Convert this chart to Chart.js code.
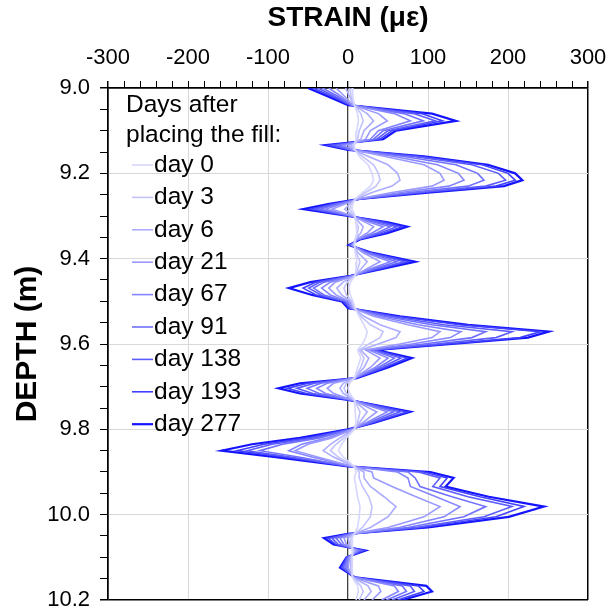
<!DOCTYPE html>
<html>
<head>
<meta charset="utf-8">
<script src="https://cdn.jsdelivr.net/npm/chart.js@4.4.1/dist/chart.umd.min.js"></script>
<style>
  html, body { margin: 0; padding: 0; background: #fff; }
</style>
</head>
<body>
<canvas id="chart" width="611" height="613"></canvas>
<script>
// depth of each reading (m), shared by all profiles
var depths = [9.00, 9.02, 9.04, 9.06, 9.077, 9.10, 9.12, 9.134, 9.145, 9.16,
  9.18, 9.20, 9.216, 9.23, 9.245, 9.26, 9.272, 9.284, 9.30, 9.315,
  9.325, 9.34, 9.355, 9.368, 9.385, 9.407, 9.425, 9.44, 9.455, 9.469,
  9.485, 9.50, 9.516, 9.535, 9.555, 9.571, 9.585, 9.60, 9.614, 9.633,
  9.655, 9.68, 9.692, 9.704, 9.716, 9.731, 9.759, 9.785, 9.80, 9.82,
  9.835, 9.85, 9.865, 9.887, 9.90, 9.914, 9.934, 9.958, 9.981, 10.005,
  10.03, 10.045, 10.055, 10.07, 10.084, 10.10, 10.124, 10.147, 10.167, 10.18,
  10.20];

var dayLabels = ['day 0', 'day 3', 'day 6', 'day 21', 'day 67', 'day 91', 'day 138', 'day 193', 'day 277'];

// strain readings (microstrain) per day
var day0 = [5, 6, 8, 12, 13, 11, 10, 8, 9, 14, 25, 30, 32, 28, 18, 9, 6, 5, 9, 10,
  11, 11, 9, 8, 9, 11, 10, 9, 3, 1, 3, 6, 9, 14, 20, 24, 22, 18, 12, 16,
  12, 8, 2, 0, 2, 8, 9, 10, 8, -2, -8, -12, -6, 8, 10, 8, 10, 12, 15, 14,
  12, 8, 5, 5, 6, 5, 5, 6, 12, 13, 10];
var day3 = [2, 4, 8, 16, 19, 14, 12, 6, 8, 18, 32, 38, 40, 35, 22, 9, 4, 2, 8, 10,
  13, 12, 9, 8, 10, 15, 12, 8, -1, -5, -2, 5, 8, 16, 28, 44, 40, 26, 14, 20,
  16, 8, -2, -5, -2, 8, 15, 12, 8, -5, -15, -22, -12, 8, 14, 14, 18, 26, 30, 28,
  18, 8, 3, 4, 7, 5, 4, 6, 16, 19, 14];
var day6 = [-3, 2, 7, 24, 32, 20, 16, 4, 7, 25, 50, 62, 65, 55, 30, 10, 2, -4, 7, 14,
  19, 16, 9, 7, 12, 24, 16, 8, -6, -14, -8, 4, 7, 20, 40, 65, 60, 38, 16, 26,
  20, 8, -6, -10, -6, 7, 24, 14, 7, -10, -22, -31, -18, 7, 20, 20, 28, 45, 60, 50,
  28, 7, 0, 2, 8, 4, 3, 6, 25, 29, 20];
var day21 = [-15, -4, 6, 38, 49, 28, 22, 0, 6, 45, 95, 115, 120, 105, 55, 12, -4, -20, 6, 22,
  32, 24, 10, 6, 18, 40, 22, 8, -16, -24, -15, 2, 6, 32, 75, 115, 105, 65, 22, 40,
  28, 8, -18, -26, -18, 6, 36, 18, 6, -20, -50, -66, -38, 6, 30, 32, 55, 85, 115, 95,
  50, 6, -5, -2, 10, 2, 0, 6, 38, 41, 30];
var day67 = [-24, -8, 5, 58, 78, 38, 28, -6, 5, 56, 112, 138, 145, 126, 66, 13, -8, -28, 5, 28,
  44, 30, 11, 5, 20, 53, 26, 7, -22, -33, -22, 0, 5, 38, 88, 141, 128, 80, 26, 50,
  34, 8, -26, -39, -28, 5, 49, 22, 5, -25, -58, -74, -45, 5, 62, 75, 78, 110, 140, 120,
  64, 5, -10, -5, 12, 1, -2, 7, 58, 63, 42];
var day91 = [-32, -12, 4, 70, 94, 44, 32, -12, 4, 68, 135, 162, 170, 150, 78, 14, -12, -35, 4, 34,
  53, 36, 12, 4, 22, 61, 30, 6, -30, -43, -30, -2, 4, 45, 105, 172, 155, 95, 30, 58,
  38, 8, -34, -51, -36, 4, 57, 25, 4, -35, -82, -110, -62, 4, 75, 84, 90, 130, 172, 145,
  75, 4, -15, -8, 14, 0, -4, 8, 68, 73, 48];
var day138 = [-38, -16, 3, 82, 109, 50, 36, -18, 3, 80, 155, 188, 197, 172, 88, 14, -16, -41, 3, 40,
  61, 40, 13, 3, 24, 70, 34, 5, -35, -49, -34, -4, 3, 52, 120, 205, 185, 110, 32, 66,
  42, 9, -42, -64, -44, 3, 65, 28, 3, -42, -95, -126, -72, 3, 88, 115, 106, 150, 205, 170,
  85, 3, -20, -12, 17, -1, -6, 8, 78, 83, 55];
var day193 = [-44, -20, 2, 92, 118, 55, 40, -24, 2, 90, 168, 200, 209, 185, 95, 15, -20, -47, 2, 45,
  68, 45, 14, 2, 26, 76, 38, 4, -40, -56, -40, -6, 2, 60, 140, 241, 215, 125, 34, 74,
  46, 10, -50, -76, -52, 2, 74, 30, 2, -50, -105, -139, -80, 2, 95, 124, 115, 165, 220, 185,
  92, 2, -25, -15, 20, -2, -8, 9, 88, 95, 62];
var day277 = [-50, -25, 0, 105, 135, 60, 44, -28, 0, 95, 175, 209, 218, 195, 100, 15, -25, -56, 0, 50,
  74, 49, 15, 1, 28, 84, 40, 3, -47, -74, -45, -8, 0, 65, 150, 251, 225, 130, 36, 80,
  50, 11, -60, -87, -60, 0, 78, 32, 0, -60, -120, -158, -90, 0, 103, 132, 122, 176, 245, 201,
  100, 0, -30, -18, 22, -2, -10, 9, 98, 105, 68];

var strainTicks = [-300, -200, -100, 0, 100, 200, 300];
var depthTicks = [9.0, 9.2, 9.4, 9.6, 9.8, 10.0, 10.2];

var profiles = [day0, day3, day6, day21, day67, day91, day138, day193, day277];
var lineColors = ['#d6d6ff', '#c2c2ff', '#adadff', '#9999ff', '#8585ff', '#7070ff', '#5c5cff', '#4040ff', '#1414ff'];

var FONT = '"Liberation Sans", Arial, sans-serif';

// build one scatter-with-line dataset per day
var datasets = [];
for (var i = 0; i < profiles.length; i++) {
    var pts = [];
    for (var k = 0; k < depths.length; k++) pts.push({ x: profiles[i][k], y: depths[k] });
    datasets.push({
        label: dayLabels[i],
        data: pts,
        showLine: true,
        borderColor: lineColors[i],
        backgroundColor: lineColors[i],
        borderWidth: i === profiles.length - 1 ? 2.2 : 1.6,
        pointRadius: 0,
        tension: 0
    });
}

function isMajor(v, list) {
    for (var j = 0; j < list.length; j++) if (Math.abs(v - list[j]) < 1e-6) return true;
    return false;
}

// legend drawn inside the plot, top-left, with a two line heading
var insideLegend = {
    id: 'insideLegend',
    afterDraw: function (chart) {
        var ctx = chart.ctx;
        var area = chart.chartArea;
        var x0 = area.left + 18;
        ctx.save();
        ctx.font = '24.5px ' + FONT;
        ctx.fillStyle = '#000';
        ctx.textBaseline = 'middle';
        ctx.textAlign = 'left';
        ctx.fillText('Days after', x0, area.top + 17);
        ctx.fillText('placing the fill:', x0, area.top + 47);
        chart.data.datasets.forEach(function (ds, n) {
            var y = area.top + 77 + n * 32.4;
            ctx.strokeStyle = ds.borderColor;
            ctx.lineWidth = ds.borderWidth;
            ctx.beginPath();
            ctx.moveTo(area.left + 24, y);
            ctx.lineTo(area.left + 45, y);
            ctx.stroke();
            ctx.fillText(ds.label, area.left + 46, y);
        });
        ctx.restore();
    }
};

new Chart(document.getElementById('chart').getContext('2d'), {
    type: 'scatter',
    data: { datasets: datasets },
    plugins: [insideLegend],
    options: {
        responsive: false,
        devicePixelRatio: 1,
        animation: false,
        layout: { padding: { left: 0, right: 23, top: 0, bottom: 13 } },
        plugins: {
            legend: { display: false },
            tooltip: { enabled: false }
        },
        scales: {
            x: {
                type: 'linear',
                position: 'top',
                min: -300,
                max: 300,
                afterFit: function (scale) {
                    scale.height = 88;
                    scale.paddingLeft = 0;
                    scale.paddingRight = 0;
                },
                ticks: {
                    stepSize: 20,
                    autoSkip: false,
                    maxRotation: 0,
                    padding: 10,
                    color: '#000',
                    font: { family: FONT, size: 22 },
                    callback: function (v) { return isMajor(v, strainTicks) ? String(Math.round(v)) : ''; }
                },
                grid: {
                    color: function (c) {
                        var v = c.tick ? c.tick.value : 0;
                        if (Math.abs(v) < 1e-6) return '#404040';
                        if (Math.abs(Math.abs(v) - 300) < 1e-6) return '#000';
                        return isMajor(v, strainTicks) ? '#d9d9d9' : 'rgba(0,0,0,0)';
                    },
                    lineWidth: function (c) {
                        var v = c.tick ? c.tick.value : 0;
                        if (Math.abs(Math.abs(v) - 300) < 1e-6) return 1.5;
                        return Math.abs(v) < 1e-6 ? 1.3 : 1;
                    },
                    tickColor: '#000',
                    tickLength: 7
                },
                border: { display: true, color: '#000', width: 1.5 },
                title: {
                    display: true,
                    text: 'STRAIN (\u03bc\u03b5)',
                    color: '#000',
                    font: { family: FONT, size: 28, weight: 'bold' },
                    padding: { top: 1, bottom: 2 }
                }
            },
            y: {
                type: 'linear',
                reverse: true,
                min: 9.0,
                max: 10.2,
                afterFit: function (scale) {
                    scale.width = 108;
                    scale.paddingTop = 0;
                    scale.paddingBottom = 0;
                },
                ticks: {
                    stepSize: 0.05,
                    autoSkip: false,
                    padding: 10,
                    color: '#000',
                    font: { family: FONT, size: 22 },
                    callback: function (v) { return isMajor(v, depthTicks) ? v.toFixed(1) : ''; }
                },
                grid: {
                    color: function (c) {
                        var v = c.tick ? c.tick.value : 0;
                        if (Math.abs(v - 9.0) < 1e-6 || Math.abs(v - 10.2) < 1e-6) return '#000';
                        return isMajor(v, depthTicks) ? '#d9d9d9' : 'rgba(0,0,0,0)';
                    },
                    lineWidth: function (c) {
                        var v = c.tick ? c.tick.value : 0;
                        return (Math.abs(v - 9.0) < 1e-6 || Math.abs(v - 10.2) < 1e-6) ? 1.5 : 1;
                    },
                    tickColor: '#000',
                    tickLength: 8
                },
                border: { display: true, color: '#000', width: 1.5 },
                title: {
                    display: true,
                    text: 'DEPTH (m)',
                    color: '#000',
                    font: { family: FONT, size: 30, weight: 'bold' },
                    padding: { top: 10, bottom: 4 }
                }
            }
        }
    }
});
</script>
</body>
</html>
